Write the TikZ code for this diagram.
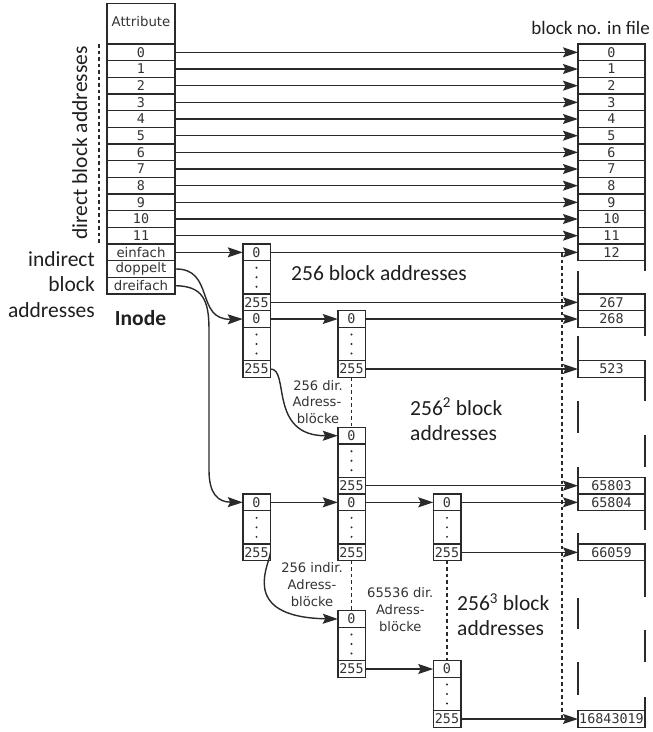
\documentclass[tikz,border=0pt]{standalone}
\usepackage{fontspec}
\setmainfont{Carlito}
\newfontfamily\dvs{DejaVu Sans}
\newfontfamily\dvm{DejaVu Sans Mono}
\usetikzlibrary{arrows.meta}
\definecolor{ln}{HTML}{2A2A2A}
\definecolor{tx}{HTML}{333333}
\newcommand\rh{16.667}
\tikzset{
  cellbox/.style={draw=ln, line width=1.5pt, minimum width=#1, minimum height=16.667pt,
    inner sep=0pt, outer sep=0pt, font=\dvm\fontsize{13.4}{14}\selectfont, text=tx},
  cellbox/.default=27.5pt,
  wordbox/.style={cellbox=68pt, font=\dvs\fontsize{13.3}{14}\selectfont},
  dotbox/.style={draw=ln, line width=1.5pt, minimum width=27.5pt, minimum height=33.333pt,
    inner sep=0pt, outer sep=0pt},
  arr/.style={draw=ln, line width=1.4pt, -{Stealth[length=15pt,width=10pt,inset=2.5pt]}},
  guide/.style={draw=ln, line width=1.4pt, dash pattern=on 3.5pt off 3pt},
  colline/.style={draw=ln, line width=1.5pt},
  biglabel/.style={font=\fontsize{21.5}{25}\selectfont, text=black!88, inner sep=0pt},
  smalllabel/.style={font=\dvs\fontsize{13.1}{15}\selectfont, text=tx, inner sep=0pt, anchor=base},
}
\newcommand\iblock[3]{%
  \node[cellbox] (#1a) at (#2, {44+(#3+0.5)*\rh}) {0};
  \node[dotbox] (#1d) at (#2, {44+(#3+2)*\rh}) {};
  \node[cellbox] (#1b) at (#2, {44+(#3+3.5)*\rh}) {255};
  \foreach \dd in {-9.5,0,9.5} \fill[ln] ([yshift=\dd pt]#1d.center) circle (1.1pt);
}
\newcommand\fblk[3]{% name, row, text
  \node[cellbox=67pt] (#1) at (611.5, {44+(#2+0.5)*\rh}) {#3};
}
\begin{document}
\begin{tikzpicture}[x=1pt, y=-1pt]
\useasboundingbox (0,0) rectangle (653,732);

% inode
\node[draw=ln, line width=1.5pt, minimum width=68pt, minimum height=40.7pt, inner sep=0pt,
  outer sep=0pt] (attr) at (141, 23.65) {};
\node[font=\dvs\fontsize{13.3}{15}\selectfont, text=tx, inner sep=0pt, anchor=base] (attrtext) at (141, 26.5) {Attribute};
\foreach \i in {0,...,11} {
  \node[cellbox=68pt] (i\i) at (141, {44+(\i+0.5)*\rh}) {\i};
}
\node[wordbox] (ein) at (141, {44+12.5*\rh}) {einfach};
\node[wordbox] (dop) at (141, {44+13.5*\rh}) {doppelt};
\node[wordbox] (drei) at (141, {44+14.5*\rh}) {dreifach};

% file blocks
\foreach \i in {0,...,12} { \fblk{f\i}{\i}{\i} }
\fblk{f267}{15}{267}
\fblk{f268}{16}{268}
\fblk{f523}{19}{523}
\fblk{f65803}{26}{65803}
\fblk{f65804}{27}{65804}
\fblk{f66059}{30}{66059}
\fblk{f16843019}{40}{16843019}

% right column broken outline
\foreach \a/\b in {261/271, 327/336, 378/401, 435/467, 510/530, 561/597, 630/662, 697/710}
  \draw[colline] (645,\a) -- (645,\b);
\foreach \a/\b in {271/294, 336/361, 401/433, 467/477, 533/544, 598/629, 662/695}
  \draw[colline] (578,\a) -- (578,\b);

% indirect blocks
\iblock{s1}{256.5}{12}
\iblock{d1}{256.5}{16}
\iblock{d2a}{351.5}{16}
\iblock{d2b}{351.5}{23}
\iblock{t1}{256.5}{27}
\iblock{t2a}{351.5}{27}
\iblock{t2b}{351.5}{34}
\iblock{t3a}{447}{27}
\iblock{t3b}{447}{37}

% guides
\coordinate (gtop) at (562,253);
\coordinate (gbot) at (562,718);
\draw[guide] (gtop) -- (gbot);
\coordinate (ltop) at (99,44);
\coordinate (lbot) at (99,244);
\draw[guide] (ltop) -- (lbot);
\draw[guide] (d2ab.south) -- (d2ba.north);
\draw[guide] (t2ab.south) -- (t2ba.north);
\draw[guide] (t3ab.south) -- (t3ba.north);

% direct arrows
\foreach \i in {0,...,11} { \draw[arr] (i\i.east) -- (f\i.west); }

% single
\draw[arr] (ein.east) -- (s1a.west);
\draw[arr] (s1a.east) -- (f12.west);
\draw[arr] (s1b.east) -- (f267.west);

% double
\draw[arr] (dop.east) .. controls (215,268) and (195,320) .. (d1a.west);
\draw[arr] (d1a.east) -- (d2aa.west);
\draw[arr] (d2aa.east) -- (f268.west);
\draw[arr] (d2ab.east) -- (f523.west);
\draw[arr] (d1b.east) .. controls (290,368) and (268,436) .. (d2ba.west);
\draw[arr] (d2bb.east) -- (f65803.west);

% triple
\draw[arr] (drei.east) .. controls (203,286) and (209,300) .. (209,330) -- (209,470)
  .. controls (209,494) and (218,502) .. (t1a.west);
\draw[arr] (t1a.east) -- (t2aa.west);
\draw[arr] (t2aa.east) -- (t3aa.west);
\draw[arr] (t3aa.east) -- (f65804.west);
\draw[arr] (t3ab.east) -- (f66059.west);
\draw[arr] (t1b.east) .. controls (272,560) and (235,617) .. (t2ba.west);
\draw[arr] (t2bb.east) -- (t3ba.west);
\draw[arr] (t3bb.east) -- (f16843019.west);

% labels
\node[biglabel, rotate=90, anchor=base] (ldirect) at (87,143) {direct block addresses};
\node[biglabel, anchor=base east, font=\fontsize{19}{22}\selectfont] (lfile) at (650,34) {block no. in file};
\node[biglabel, anchor=base east] (lind1) at (95,266.7) {indirect};
\node[biglabel, anchor=base east] (lind2) at (95,291.7) {block};
\node[biglabel, anchor=base east] (lind3) at (95,317.3) {addresses};
\node[biglabel, anchor=base, font=\bfseries\fontsize{21.5}{25}\selectfont] (linode) at (140.5,325) {Inode};
\node[biglabel, anchor=base west] (l256) at (291,280.7) {256 block addresses};
\node[biglabel, anchor=base west] (l2561) at (410,415) {256\textsuperscript{2} block};
\node[biglabel, anchor=base west] (l2562) at (410,440.7) {addresses};
\node[biglabel, anchor=base west] (l2571) at (457,610.7) {256\textsuperscript{3} block};
\node[biglabel, anchor=base west] (l2572) at (457,635) {addresses};

\node[smalllabel] (sa1) at (318,390) {256 dir.};
\node[smalllabel] (sa2) at (317,406.7) {Adress-};
\node[smalllabel] (sa3) at (318,423.3) {blöcke};
\node[smalllabel] (sb1) at (312,572.7) {256 indir.};
\node[smalllabel] (sb2) at (312,589.3) {Adress-};
\node[smalllabel] (sb3) at (312,606) {blöcke};
\node[smalllabel] (sc1) at (400.3,597.7) {65536 dir.};
\node[smalllabel] (sc2) at (400.3,614.3) {Adress-};
\node[smalllabel] (sc3) at (400.3,631) {blöcke};
\end{tikzpicture}
\end{document}
